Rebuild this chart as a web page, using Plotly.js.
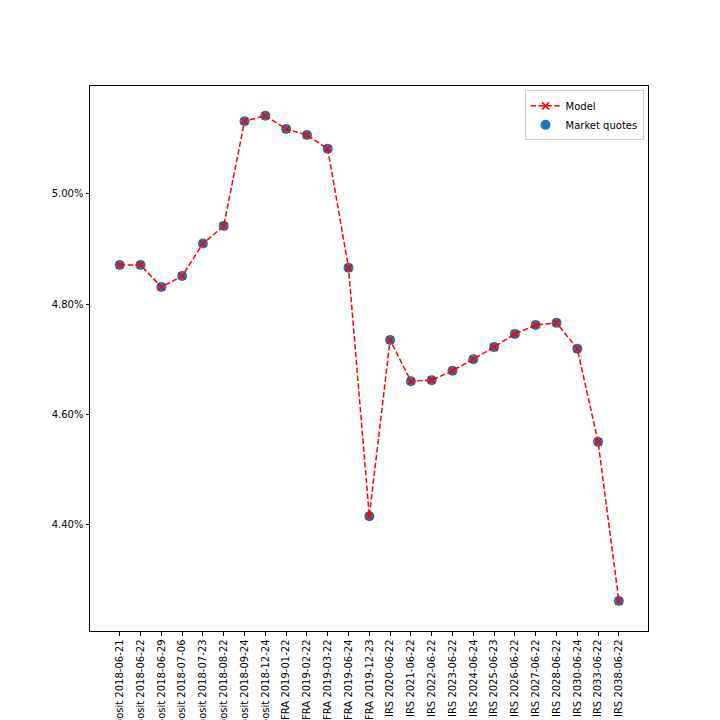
<!DOCTYPE html>
<html>
<head>
<meta charset="utf-8">
<script src="https://cdn.plot.ly/plotly-3.0.1.min.js"></script>
<style>
  body { margin: 0; background: #fff; }
  #chart { width: 720px; height: 720px; }
</style>
</head>
<body>
<div id="chart"></div>
<script>
const instruments = [
  'Deposit 2018-06-21', 'Deposit 2018-06-22', 'Deposit 2018-06-29', 'Deposit 2018-07-06',
  'Deposit 2018-07-23', 'Deposit 2018-08-22', 'Deposit 2018-09-24', 'Deposit 2018-12-24',
  'FRA 2019-01-22', 'FRA 2019-02-22', 'FRA 2019-03-22', 'FRA 2019-06-24', 'FRA 2019-12-23',
  'IRS 2020-06-22', 'IRS 2021-06-22', 'IRS 2022-06-22', 'IRS 2023-06-22', 'IRS 2024-06-24',
  'IRS 2025-06-23', 'IRS 2026-06-22', 'IRS 2027-06-22', 'IRS 2028-06-22', 'IRS 2030-06-24',
  'IRS 2033-06-22', 'IRS 2038-06-22'
];

const marketQuotes = [
  0.04871, 0.04871, 0.04831, 0.04851, 0.04910, 0.04942, 0.05132, 0.05142,
  0.05118, 0.05107, 0.05082, 0.04866, 0.04415,
  0.04735, 0.04660, 0.04662, 0.04679, 0.04700, 0.04722, 0.04746,
  0.04762, 0.04766, 0.04719, 0.04550, 0.04261
];

const modelRates = marketQuotes.slice();

const yTicks = [0.044, 0.046, 0.048, 0.050];

const font = { family: 'DejaVu Sans, sans-serif', size: 10, color: '#000' };

Plotly.newPlot('chart', [{
  x: instruments,
  y: marketQuotes,
  name: 'Market quotes',
  type: 'scatter',
  mode: 'markers',
  marker: { color: '#1f77b4', size: 10 },
}, {
  x: instruments,
  y: modelRates,
  name: 'Model',
  type: 'scatter',
  mode: 'lines+markers',
  line: { color: 'red', width: 1.5, dash: '5.5px,2.4px' },
  marker: { symbol: 'x-thin', size: 7, line: { color: 'red', width: 1.5 } },
}], {
  width: 720,
  height: 720,
  margin: { l: 90, r: 72, t: 86, b: 89 },
  paper_bgcolor: '#fff',
  plot_bgcolor: '#fff',
  font: font,
  showlegend: true,
  legend: {
    x: 0.992, y: 0.992, xanchor: 'right', yanchor: 'top',
    traceorder: 'reversed',
    bgcolor: 'rgba(255,255,255,0.8)',
    bordercolor: '#cccccc', borderwidth: 1,
    font: font,
    tracegroupgap: 0,
  },
  xaxis: {
    type: 'category',
    categoryorder: 'array',
    categoryarray: instruments,
    range: [-1.43, 25.4],
    tickangle: -90,
    ticks: 'outside', ticklen: 3.5, tickwidth: 1, tickcolor: '#000',
    showgrid: false, zeroline: false,
    showline: true, linecolor: '#000', linewidth: 1, mirror: true,
    automargin: false,
    tickfont: font,
  },
  yaxis: {
    range: [0.042066, 0.05196],
    tickvals: yTicks,
    tickformat: '.2%',
    ticks: 'outside', ticklen: 3.5, tickwidth: 1, tickcolor: '#000',
    showgrid: false, zeroline: false,
    showline: true, linecolor: '#000', linewidth: 1, mirror: true,
    automargin: false,
    tickfont: font,
  },
}, { displayModeBar: false, staticPlot: true });
</script>
</body>
</html>
